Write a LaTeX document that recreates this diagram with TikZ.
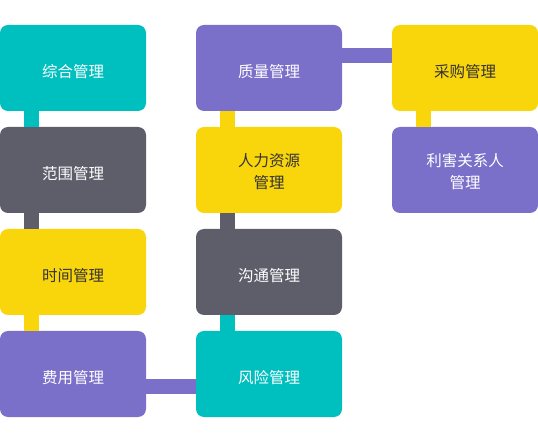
\documentclass[tikz,border=0pt]{standalone}
\usepackage{fontspec}
\setmainfont{Noto Sans CJK SC}
\definecolor{mteal}{HTML}{00BFBF}
\definecolor{mgray}{HTML}{5E5D6A}
\definecolor{myellow}{HTML}{F9D50B}
\definecolor{mpurple}{HTML}{7A6FC9}
\definecolor{mtext}{HTML}{333333}
\newcommand\twolines[2]{\raisebox{-3.5pt}[\height][\depth]{\begin{tabular}{@{}c@{}}#1\\[1.5pt]#2\end{tabular}}}

\begin{document}
\begin{tikzpicture}[x=1pt,y=-1pt,
	box/.style={rounded corners=8pt,minimum width=146pt,minimum height=86pt,inner sep=0pt,align=center,font=\fontsize{15.5}{20}\selectfont,text=white},
	one/.style={text height=20.5pt,text depth=1pt},
	link/.style={line width=15pt}]
	\useasboundingbox (0,0) rectangle (538,443);
	
	\node (zh) [box,one,fill=mteal] at (73,68) {综合管理};
	\node (fw) [box,one,fill=mgray] at (73,170) {范围管理};
	\node (sj) [box,one,fill=myellow,text=mtext] at (73,272) {时间管理};
	\node (fy) [box,one,fill=mpurple] at (73,374) {费用管理};
	
	\node (zl) [box,one,fill=mpurple] at (269,68) {质量管理};
	\node (rl) [box,fill=myellow,text=mtext] at (269,170) {\twolines{人力资源}{管理}};
	\node (gt) [box,one,fill=mgray] at (269,272) {沟通管理};
	\node (fx) [box,one,fill=mteal] at (269,374) {风险管理};
	
	\node (cg) [box,one,fill=myellow,text=mtext] at (465,68) {采购管理};
	\node (lh) [box,fill=mpurple] at (465,170) {\twolines{利害关系人}{管理}};
	
	\foreach \a/\b/\col in {zh/fw/mteal,fw/sj/mgray,sj/fy/myellow,zl/rl/myellow,rl/gt/mgray,gt/fx/mteal,cg/lh/myellow}
	\draw [link,\col] ([xshift=-41.5pt]\a.south) -- ([xshift=-41.5pt]\b.north);
	
	\draw [link,mpurple] ([yshift=-12.5pt]fy.east) -- ([yshift=-12.5pt]fx.west);
	\draw [link,mpurple] ([yshift=12pt]zl.east) -- ([yshift=12pt]cg.west);
	
\end{tikzpicture}
\end{document}
